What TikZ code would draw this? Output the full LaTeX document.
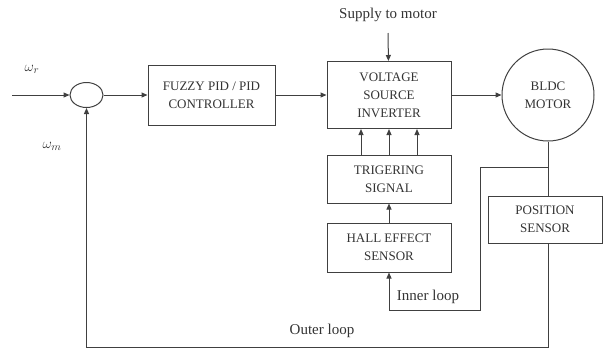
\documentclass[tikz,border=0pt]{standalone}
\usepackage{amsmath}
\usepackage{fontspec}
\setmainfont{Liberation Serif}
\usepackage{xcolor}
\usepackage{tikz}
\usetikzlibrary{arrows.meta, shapes.geometric}

\tikzset{
    block/.style={draw=black!75, line width=1pt, align=center, font=\fontsize{13}{18}\selectfont, text=black!80, inner sep=0pt},
    lbl/.style={font=\fontsize{15}{16}\selectfont, text=black!80, inner sep=0pt},
    arr/.style={-{Triangle[length=6pt, width=5pt]}},
}

\begin{document}
\begin{tikzpicture}[x=1pt, y=-1pt, line width=1pt, draw=black!75]
    \useasboundingbox (0,0) rectangle (603,349);

    % summing junction and controller
    \node[ellipse, draw=black!75, line width=1pt, minimum width=33, minimum height=25, inner sep=0pt] (sum) at (86.5,95) {};
    \node[block, minimum width=127, minimum height=60] (fuzzy) at (211.5,95) {FUZZY PID / PID\\CONTROLLER};

    % inverter, triggering and hall sensor
    \node[block, minimum width=124, minimum height=67] (vsi) at (389,95) {VOLTAGE\\SOURCE\\INVERTER};
    \node[block, minimum width=124, minimum height=48] (trig) at (389,179) {TRIGERING\\SIGNAL};
    \node[block, minimum width=124, minimum height=49] (hall) at (389,247.5) {HALL EFFECT\\SENSOR};

    % motor and position sensor
    \node[circle, block, minimum size=92] (motor) at (548,95) {BLDC\\MOTOR};
    \node[block, minimum width=114, minimum height=47] (pos) at (545,219.5) {POSITION\\SENSOR};

    % labels
    \node[lbl] (supply) at (388,15) {Supply to motor};
    \node[lbl] (wr) at (32,69) {$\omega_r$};
    \node[lbl] (wm) at (52,146) {$\omega_m$};
    \node[lbl] (inner) at (428,297) {Inner loop};
    \node[lbl] (outer) at (322,331) {Outer loop};

    \coordinate (in) at (12,95);
    \coordinate (sup) at (388,33);
    \coordinate (tap) at (548,167);
    \coordinate (ib) at (480,310);
    \coordinate (ob) at (86.5,347);

    % forward path
    \draw[arr] (in) -- (sum);
    \draw[arr] (sum) -- (fuzzy);
    \draw[arr] (fuzzy) -- (vsi);
    \draw[arr] (vsi) -- (motor);
    \draw[arr] (sup) -- (vsi);
    \foreach \dx in {-28,0,28}
        \draw[arr] ([xshift=\dx]trig.north) -- ([xshift=\dx]vsi.south);
    \draw[arr] (hall) -- (trig);

    % feedback loops
    \draw (motor.south) -- (motor.south |- pos.north);
    \draw[arr] (tap) -| (ib) -| (hall.south);
    \draw[arr] (motor.south |- pos.south) |- (ob) -- (sum.south);
\end{tikzpicture}
\end{document}
